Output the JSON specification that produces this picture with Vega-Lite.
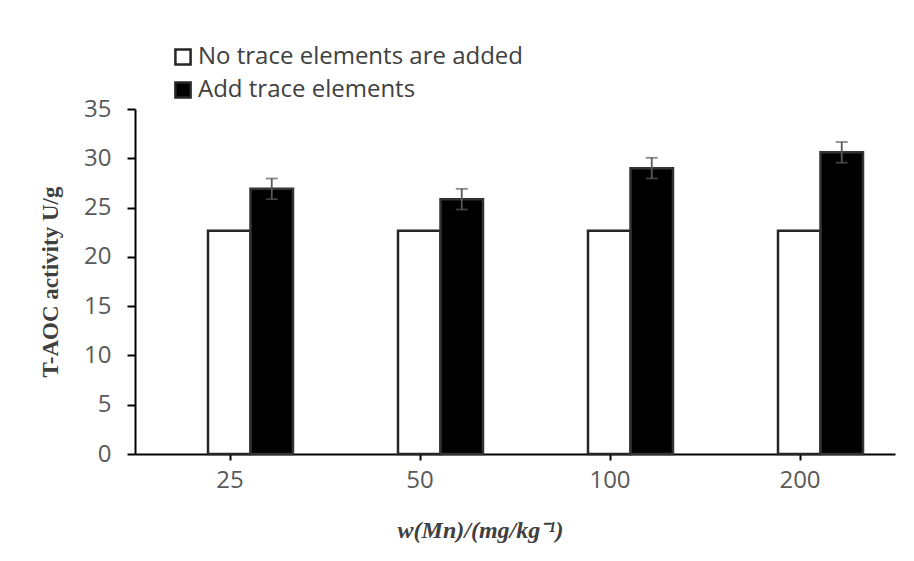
{
  "$schema": "https://vega.github.io/schema/vega-lite/v6.json",
  "width": 760,
  "height": 345,
  "autosize": "none",
  "padding": {"left": 135, "top": 109, "right": 19, "bottom": 107},
  "background": "white",
  "config": {
    "view": {"stroke": null},
    "font": "Open Sans"
  },
  "data": {
    "values": [
      {"dose": "25", "series": "No trace elements are added", "value": 22.65, "lo": 22.65, "hi": 22.65},
      {"dose": "25", "series": "Add trace elements", "value": 26.9, "lo": 25.85, "hi": 27.95},
      {"dose": "50", "series": "No trace elements are added", "value": 22.65, "lo": 22.65, "hi": 22.65},
      {"dose": "50", "series": "Add trace elements", "value": 25.85, "lo": 24.8, "hi": 26.9},
      {"dose": "100", "series": "No trace elements are added", "value": 22.65, "lo": 22.65, "hi": 22.65},
      {"dose": "100", "series": "Add trace elements", "value": 29.0, "lo": 27.95, "hi": 30.05},
      {"dose": "200", "series": "No trace elements are added", "value": 22.65, "lo": 22.65, "hi": 22.65},
      {"dose": "200", "series": "Add trace elements", "value": 30.6, "lo": 29.55, "hi": 31.65}
    ]
  },
  "encoding": {
    "x": {
      "field": "dose",
      "type": "ordinal",
      "sort": ["25", "50", "100", "200"],
      "scale": {"paddingInner": 0.2158, "paddingOuter": 0.1079, "align": 1},
      "axis": {
        "title": "w(Mn)/(mg/kg⁻¹)",
        "titleFont": "Liberation Serif",
        "titleFontStyle": "italic",
        "titleFontWeight": "bold",
        "titleFontSize": 24,
        "titleColor": "#404040",
        "titleX": 345,
        "titlePadding": 26,
        "labelAngle": 0,
        "labelFont": "Open Sans",
        "labelFontSize": 24,
        "labelColor": "#595959",
        "labelPadding": 8,
        "ticks": true,
        "tickOffset": -21,
        "domainColor": "#000000",
        "domainWidth": 2,
        "tickColor": "#000000",
        "tickWidth": 2,
        "tickSize": 6
      }
    },
    "xOffset": {
      "field": "series",
      "type": "nominal",
      "sort": ["No trace elements are added", "Add trace elements"],
      "scale": {"paddingInner": 0, "paddingOuter": 0.753}
    }
  },
  "layer": [
    {
      "mark": {"type": "bar", "strokeWidth": 2.5},
      "encoding": {
        "y": {
          "field": "value",
          "type": "quantitative",
          "scale": {"domain": [0, 35], "nice": false},
          "axis": {
            "title": "T-AOC activity U/g",
            "titleFont": "Liberation Serif",
            "titleFontWeight": "bold",
            "titleFontSize": 23,
            "titleColor": "#404040",
            "titlePadding": 21,
            "values": [0, 2.5, 5, 7.5, 10, 12.5, 15, 17.5, 20, 22.5, 25, 27.5, 30, 32.5, 35],
            "labelExpr": "datum.value % 5 === 0 ? datum.label : ''",
            "labelFont": "Open Sans",
            "labelFontSize": 24,
            "labelColor": "#595959",
            "labelPadding": 16,
            "grid": false,
            "domainColor": "#000000",
            "domainWidth": 2,
            "tickColor": "#000000",
            "tickWidth": 2,
            "tickSize": {"condition": {"test": "datum.value % 5 === 0", "value": 8}, "value": 5}
          }
        },
        "fill": {
          "field": "series",
          "type": "nominal",
          "sort": ["No trace elements are added", "Add trace elements"],
          "scale": {"range": ["#ffffff", "#000000"]},
          "legend": {
            "title": null,
            "orient": "none",
            "legendX": 36,
            "legendY": -64,
            "symbolType": "square",
            "symbolSize": 230,
            "symbolStrokeWidth": 2.5,
            "symbolStrokeColor": "#262626",
            "labelFont": "Open Sans",
            "labelFontSize": 24,
            "labelLimit": 600,
            "labelColor": "#404040",
            "labelOffset": 3,
            "rowPadding": 7
          }
        },
        "stroke": {
          "field": "series",
          "type": "nominal",
          "sort": ["No trace elements are added", "Add trace elements"],
          "scale": {"range": ["#262626", "#333333"]},
          "legend": null
        }
      }
    },
    {
      "transform": [{"filter": "datum.hi > datum.lo"}],
      "mark": {"type": "rule", "color": "#595959", "strokeWidth": 1.8},
      "encoding": {
        "y": {"field": "lo", "type": "quantitative"},
        "y2": {"field": "hi"}
      }
    },
    {
      "transform": [{"filter": "datum.hi > datum.lo"}],
      "mark": {"type": "tick", "color": "#595959", "thickness": 1.8, "size": 12, "orient": "horizontal"},
      "encoding": {"y": {"field": "lo", "type": "quantitative"}}
    },
    {
      "transform": [{"filter": "datum.hi > datum.lo"}],
      "mark": {"type": "tick", "color": "#595959", "thickness": 1.8, "size": 12, "orient": "horizontal"},
      "encoding": {"y": {"field": "hi", "type": "quantitative"}}
    }
  ]
}
